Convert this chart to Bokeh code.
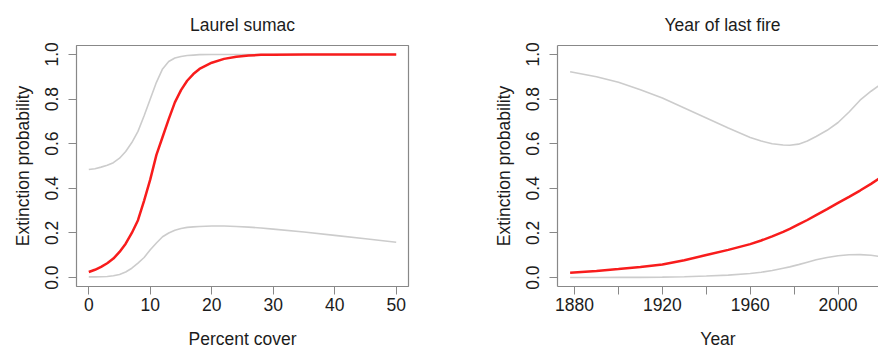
from bokeh.plotting import figure
from bokeh.layouts import row
from bokeh.models import Range1d, FixedTicker, LinearAxis, PrintfTickFormatter
from bokeh.embed import file_html
from bokeh.resources import INLINE

# ---------------- data: Laurel sumac ----------------
cover_x = [0, 1, 2, 3, 4, 5, 6, 7, 8, 9, 10, 11, 12, 13, 14, 15, 16, 17, 18,
           20, 22, 24, 26, 28, 30, 35, 40, 45, 50]
cover_mean = [0.025, 0.035, 0.048, 0.064, 0.085, 0.115, 0.152, 0.200, 0.257, 0.345,
              0.440, 0.550, 0.630, 0.710, 0.785, 0.840, 0.882, 0.912, 0.935,
              0.963, 0.980, 0.990, 0.995, 0.998, 0.999, 1.0, 1.0, 1.0, 1.0]
cover_upper = [0.484, 0.488, 0.495, 0.503, 0.515, 0.535, 0.565, 0.605, 0.655, 0.725,
               0.800, 0.875, 0.935, 0.968, 0.984, 0.991, 0.995, 0.997, 0.999,
               1.0, 1.0, 1.0, 1.0, 1.0, 1.0, 1.0, 1.0, 1.0, 1.0]
cover_lower = [0.003, 0.003, 0.004, 0.005, 0.008, 0.014, 0.025, 0.042, 0.065, 0.090,
               0.125, 0.155, 0.183, 0.200, 0.212, 0.220, 0.225, 0.227, 0.229,
               0.231, 0.231, 0.229, 0.226, 0.222, 0.217, 0.204, 0.189, 0.174, 0.158]
cover_ticks = [0, 10, 20, 30, 40, 50]

# ---------------- data: Year of last fire ----------------
year_x = [1878, 1890, 1900, 1910, 1920, 1930, 1940, 1950, 1960, 1965, 1970, 1975,
          1978, 1982, 1986, 1990, 1995, 2000, 2005, 2010, 2015, 2020]
year_mean = [0.022, 0.030, 0.038, 0.047, 0.059, 0.078, 0.101, 0.124, 0.150, 0.166,
             0.185, 0.205, 0.218, 0.238, 0.258, 0.280, 0.307, 0.335, 0.362, 0.390,
             0.420, 0.452]
year_upper = [0.922, 0.900, 0.875, 0.842, 0.805, 0.760, 0.715, 0.670, 0.628, 0.612,
              0.600, 0.594, 0.593, 0.598, 0.612, 0.632, 0.660, 0.695, 0.742, 0.795,
              0.835, 0.870]
year_lower = [0.000, 0.000, 0.001, 0.001, 0.002, 0.004, 0.007, 0.011, 0.018, 0.024,
              0.032, 0.042, 0.048, 0.058, 0.069, 0.080, 0.090, 0.098, 0.102, 0.103,
              0.100, 0.093]
year_ticks = [1880, 1900, 1920, 1940, 1960, 1980, 2000, 2020]
year_labels = {1880: "1880", 1900: "", 1920: "1920", 1940: "", 1960: "1960",
               1980: "", 2000: "2000", 2020: ""}

prob_ticks = [0.0, 0.2, 0.4, 0.6, 0.8, 1.0]

FONT = "Liberation Sans"
FS = "17.5px"
TXT = "#1c1c1c"
BOX = "#888888"
RED = "#f81c1c"
GRAY = "#cccccc"


def style_axes(p):
    for ax in p.xaxis + p.yaxis:
        ax.major_tick_out = 8
        ax.major_tick_in = 0
        ax.minor_tick_line_color = None
        ax.major_tick_line_color = BOX
        ax.major_tick_line_width = 1
        ax.major_label_text_font = FONT
        ax.major_label_text_font_size = FS
        ax.major_label_text_color = TXT
        ax.axis_label_text_font = FONT
        ax.axis_label_text_font_size = FS
        ax.axis_label_text_font_style = "normal"
        ax.axis_label_text_color = TXT
    p.xaxis.major_label_standoff = 3
    p.xaxis.axis_label_standoff = 15
    p.yaxis.major_label_standoff = 10
    p.yaxis.axis_label_standoff = 10
    p.yaxis.major_label_orientation = "vertical"
    p.yaxis.ticker = FixedTicker(ticks=prob_ticks)
    p.yaxis.formatter = PrintfTickFormatter(format="%.1f")
    p.yaxis.axis_label = "Extinction probability"
    p.xgrid.grid_line_color = None
    p.ygrid.grid_line_color = None
    p.background_fill_color = "white"
    p.border_fill_color = "white"
    p.title.text_font = FONT
    p.title.text_font_size = FS
    p.title.text_font_style = "normal"
    p.title.text_color = TXT
    p.title.standoff = 21


# ---------------- left panel ----------------
p1 = figure(width=440, height=351, output_backend="svg", toolbar_location=None,
            x_range=Range1d(-2, 52), y_range=Range1d(-0.04, 1.04),
            min_border_left=76, min_border_right=32, min_border_top=45,
            min_border_bottom=62, title="Laurel sumac")
p1.title.align = "center"
p1.outline_line_color = BOX
p1.outline_line_width = 1.2
style_axes(p1)
p1.xaxis.axis_line_color = None
p1.yaxis.axis_line_color = None
p1.xaxis.ticker = FixedTicker(ticks=cover_ticks)
p1.xaxis.axis_label = "Percent cover"

p1.line(cover_x, cover_upper, line_color=GRAY, line_width=1.6)
p1.line(cover_x, cover_lower, line_color=GRAY, line_width=1.6)
p1.line(cover_x, cover_mean, line_color=RED, line_width=2.5)

# ---------------- right panel ----------------
p2 = figure(width=438, height=351, output_backend="svg", toolbar_location=None,
            x_range=Range1d(1872.25, 2018.4), y_range=Range1d(-0.04, 1.04),
            min_border_left=117, min_border_right=0, min_border_top=45,
            min_border_bottom=62, title="Year of last fire")
p2.title.align = "left"
p2.title.offset = 107
p2.outline_line_color = None
style_axes(p2)
p2.xaxis.axis_line_color = BOX
p2.yaxis.axis_line_color = BOX
p2.xaxis.axis_line_width = 1.2
p2.yaxis.axis_line_width = 1.2
p2.xaxis.ticker = FixedTicker(ticks=year_ticks)
p2.xaxis.major_label_overrides = {k: v for k, v in year_labels.items()}
p2.xaxis.axis_label = "Year"

top_axis = LinearAxis(ticker=FixedTicker(ticks=[]), axis_line_color=BOX,
                      axis_line_width=1.2, major_tick_line_color=None,
                      minor_tick_line_color=None, major_label_text_font_size="0px",
                      major_label_standoff=0)
p2.add_layout(top_axis, "above")

p2.line(year_x, year_upper, line_color=GRAY, line_width=1.6)
p2.line(year_x, year_lower, line_color=GRAY, line_width=1.6)
p2.line(year_x, year_mean, line_color=RED, line_width=2.5)

layout = row(p1, p2)
open("out.html", "w").write(file_html(layout, INLINE))
